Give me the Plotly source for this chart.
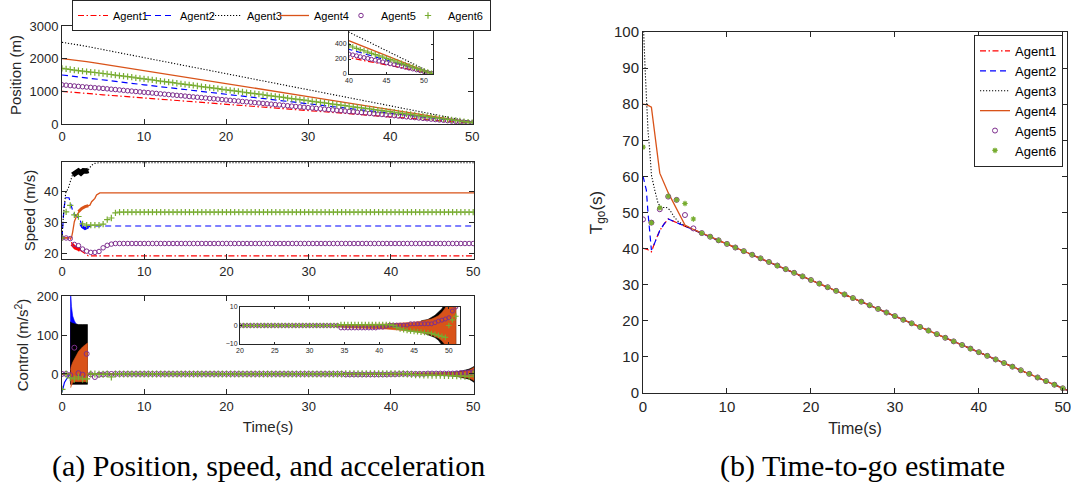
import plotly.graph_objects as go

W, H = 1071, 493

# ---------------- data ----------------
agents = ["Agent1", "Agent2", "Agent3", "Agent4", "Agent5", "Agent6"]

# 0.5 s sampling grid used by the marker series (Agent5, Agent6)
t_half = [0, 0.5, 1, 1.5, 2, 2.5, 3, 3.5, 4, 4.5,
          5, 5.5, 6, 6.5, 7, 7.5, 8, 8.5, 9, 9.5,
          10, 10.5, 11, 11.5, 12, 12.5, 13, 13.5, 14, 14.5,
          15, 15.5, 16, 16.5, 17, 17.5, 18, 18.5, 19, 19.5,
          20, 20.5, 21, 21.5, 22, 22.5, 23, 23.5, 24, 24.5,
          25, 25.5, 26, 26.5, 27, 27.5, 28, 28.5, 29, 29.5,
          30, 30.5, 31, 31.5, 32, 32.5, 33, 33.5, 34, 34.5,
          35, 35.5, 36, 36.5, 37, 37.5, 38, 38.5, 39, 39.5,
          40, 40.5, 41, 41.5, 42, 42.5, 43, 43.5, 44, 44.5,
          45, 45.5, 46, 46.5, 47, 47.5, 48, 48.5, 49, 49.5,
          50, 50.5, 51]
# 1 s grid for time-to-go markers
t_one = [0, 1, 2, 3, 4, 5, 6, 7, 8, 9,
         10, 11, 12, 13, 14, 15, 16, 17, 18, 19,
         20, 21, 22, 23, 24, 25, 26, 27, 28, 29,
         30, 31, 32, 33, 34, 35, 36, 37, 38, 39,
         40, 41, 42, 43, 44, 45, 46, 47, 48, 49,
         50]

# ---- Position (m) ----
pos_t = [0, 0.5, 1, 2, 3, 4, 5, 10, 20, 30, 40, 50, 51]
pos1 = [1000, 988, 975, 953, 932, 913, 893, 797, 604, 411, 218, 25, 6]
pos2 = [1500, 1484, 1466, 1433, 1403, 1374, 1345, 1200, 910, 620, 330, 40, 11]
pos3 = [2500, 2485, 2465, 2421, 2376, 2328, 2279, 2033, 1541, 1049, 557, 65, 16]
pos4 = [2000, 1988, 1975, 1944, 1909, 1871, 1832, 1634, 1237, 840, 443, 46, 6]
pos5 = [1200, 1188, 1175, 1164, 1152, 1141, 1131, 1121, 1110, 1100,
        1089, 1077, 1065, 1054, 1042, 1030, 1018, 1007, 995, 983,
        971, 960, 948, 936, 924, 913, 901, 889, 877, 866,
        854, 842, 830, 819, 807, 795, 783, 772, 760, 748,
        736, 725, 713, 701, 689, 678, 666, 654, 642, 631,
        619, 607, 595, 584, 572, 560, 548, 537, 525, 513,
        501, 490, 478, 466, 454, 443, 431, 419, 407, 396,
        384, 372, 360, 349, 337, 325, 313, 302, 290, 278,
        266, 255, 243, 231, 219, 208, 196, 184, 172, 161,
        149, 137, 125, 114, 102, 90, 78, 67, 55, 43,
        31, 20, 8]
pos6 = [1700, 1685, 1668, 1651, 1635, 1620, 1605, 1590, 1576, 1561,
        1546, 1531, 1515, 1499, 1482, 1465, 1449, 1432, 1415, 1398,
        1382, 1365, 1348, 1331, 1315, 1298, 1281, 1264, 1248, 1231,
        1214, 1197, 1181, 1164, 1147, 1130, 1114, 1097, 1080, 1063,
        1047, 1030, 1013, 996, 980, 963, 946, 929, 913, 896,
        879, 862, 846, 829, 812, 795, 779, 762, 745, 728,
        712, 695, 678, 661, 645, 628, 611, 594, 578, 561,
        544, 527, 511, 494, 477, 460, 444, 427, 410, 393,
        377, 360, 343, 326, 310, 293, 276, 259, 243, 226,
        209, 192, 176, 159, 142, 125, 109, 92, 75, 58,
        42, 25, 8]

# ---- Speed (m/s) ----
spd1_t = [0, 1.0, 1.2, 1.4, 1.6, 2.0, 2.2, 2.6, 2.9, 3.2, 51]
spd1 = [25, 25, 23.2, 22.4, 21.8, 21.4, 21.0, 20.5, 19.8, 19.2, 19.2]
spd1_chat_t = [1.2, 1.4, 1.6, 2.0, 2.2]
spd1_chat = [23.0, 22.4, 21.8, 21.4, 21.0]
spd2_t = [0, 0.1, 0.25, 0.45, 0.85, 1.1, 1.38, 1.8, 2.2, 2.4, 2.8, 3.2, 3.6, 51]
spd2 = [25, 29.7, 35, 38.1, 38.1, 35.8, 33.1, 32.0, 30.9, 29.2, 28.1, 28.6, 28.9, 28.9]
spd2_chat_t = [2.3, 2.5, 2.8, 3.0, 3.2]
spd2_chat = [29.5, 28.6, 28.1, 28.3, 28.6]
spd3_t = [0, 0.16, 0.45, 0.77, 1.0, 1.26, 1.6, 2.0, 2.3, 2.6, 3.2, 3.6, 4.0, 4.5, 51]
spd3 = [25, 32, 39.7, 41.2, 43.3, 45.4, 46.5, 47.0, 46.3, 47.2, 47.2, 48.7, 49.3, 49.5, 49.5]
spd3_chat_t = [1.3, 1.6, 2.0, 2.3, 2.6, 3.0, 3.2]
spd3_chat = [45.5, 46.3, 46.8, 46.2, 46.9, 46.8, 47.0]
spd4_t = [0, 1.15, 1.3, 1.5, 1.8, 2.2, 2.8, 3.4, 3.6, 4.0, 4.2, 4.6, 51]
spd4 = [25, 25, 27, 30.3, 32.4, 34.1, 35.2, 35.7, 36.8, 37.9, 39.0, 39.7, 39.7]
spd4_chat_t = [2.0, 2.4, 2.8, 3.2]
spd4_chat = [33.6, 34.6, 35.2, 35.5]
spd5 = [25, 25, 24.8, 22.9, 22.5, 21.4, 20.7, 20.3, 20.3, 20.6,
        21.8, 22.6, 23.0, 23.2, 23.2, 23.2, 23.2, 23.2, 23.2, 23.2,
        23.2, 23.2, 23.2, 23.2, 23.2, 23.2, 23.2, 23.2, 23.2, 23.2,
        23.2, 23.2, 23.2, 23.2, 23.2, 23.2, 23.2, 23.2, 23.2, 23.2,
        23.2, 23.2, 23.2, 23.2, 23.2, 23.2, 23.2, 23.2, 23.2, 23.2,
        23.2, 23.2, 23.2, 23.2, 23.2, 23.2, 23.2, 23.2, 23.2, 23.2,
        23.2, 23.2, 23.2, 23.2, 23.2, 23.2, 23.2, 23.2, 23.2, 23.2,
        23.2, 23.2, 23.2, 23.2, 23.2, 23.2, 23.2, 23.2, 23.2, 23.2,
        23.2, 23.2, 23.2, 23.2, 23.2, 23.2, 23.2, 23.2, 23.2, 23.2,
        23.2, 23.2, 23.2, 23.2, 23.2, 23.2, 23.2, 23.2, 23.2, 23.2,
        23.2, 23.2, 23.2]
spd6 = [25, 33.5, 35.6, 32.5, 32.0, 29.6, 29.2, 29.2, 29.2, 29.2,
        29.5, 31.0, 31.5, 33.2, 33.4, 33.4, 33.4, 33.4, 33.4, 33.4,
        33.4, 33.4, 33.4, 33.4, 33.4, 33.4, 33.4, 33.4, 33.4, 33.4,
        33.4, 33.4, 33.4, 33.4, 33.4, 33.4, 33.4, 33.4, 33.4, 33.4,
        33.4, 33.4, 33.4, 33.4, 33.4, 33.4, 33.4, 33.4, 33.4, 33.4,
        33.4, 33.4, 33.4, 33.4, 33.4, 33.4, 33.4, 33.4, 33.4, 33.4,
        33.4, 33.4, 33.4, 33.4, 33.4, 33.4, 33.4, 33.4, 33.4, 33.4,
        33.4, 33.4, 33.4, 33.4, 33.4, 33.4, 33.4, 33.4, 33.4, 33.4,
        33.4, 33.4, 33.4, 33.4, 33.4, 33.4, 33.4, 33.4, 33.4, 33.4,
        33.4, 33.4, 33.4, 33.4, 33.4, 33.4, 33.4, 33.4, 33.4, 33.4,
        33.4, 33.4, 33.4]

# ---- Control (m/s^2) ----
ctrl_flat_t = [0, 51]
ctrl_flat = [0, 0]
ctrl2_t = [0, 0.15, 0.3, 0.5, 0.7, 0.9, 1.0, 51]
ctrl2 = [-48, -33, -22, -15, -8, -2, 0, 0]
# chattering envelopes (upper / lower edge of the filled bands)
band1_t = [1.0, 1.3, 2.0, 2.8]
band1_hi = [128, 130, 125, 120]
band1_lo = [-25, -25, -25, -25]
band2_t = [1.0, 1.05, 1.15, 1.3, 1.5, 1.7, 2.0, 2.4]
band2_hi = [205, 215, 175, 150, 138, 130, 126, 122]
band2_lo = [-25, -25, -25, -25, -25, -25, -25, -25]
band3a_t = [1.0, 1.2, 1.5, 2.0, 2.5, 3.0, 3.1]
band3a_hi = [135, 132, 130, 128, 128, 128, 128]
band3a_lo = [-27, -27, -27, -27, -27, -27, -27]
band3b_t = [46, 47, 48, 48.5, 49, 49.5, 50, 50.5, 51]
band3b_hi = [2.5, 3.3, 5.5, 7, 9, 12.5, 18, 26, 35]
band3b_lo = [-3.5, -4.8, -6.5, -8, -10.5, -13.5, -20, -30, -40]
band4a_t = [1.05, 1.1, 1.3, 1.6, 2.0, 2.5, 3.0, 3.1]
band4a_hi = [10, 18, 30, 44, 58, 70, 78, 80]
band4a_lo = [-36, -30, -22, -20, -20, -20, -20, -20]
band4b_t = [33, 35, 38, 41, 43, 45, 46, 47, 47.5, 48, 48.5, 49, 49.5, 50, 50.5, 51]
band4b_hi = [0, 0.4, 0.6, 0.8, 1.2, 1.8, 2.3, 3.0, 3.5, 4.3, 5.3, 7.0, 9.5, 15, 22, 30]
band4b_lo = [0, -1.2, -1.5, -1.9, -2.5, -3.3, -3.8, -4.5, -5.0, -5.8, -6.8, -8.3, -10.5, -16, -25, -34]
ctrl5 = [0, 0, -3, 68, 2, -2, 52, -1, -8, -2,
         -1, 0, 0, 0, 0, 0, 0, 0, 0, 0,
         0, 0, 0, 0, 0, 0, 0, 0, 0, 0,
         0, 0, 0, 0, 0, 0, 0, 0, 0, 0,
         0, 0, 0, 0, 0, 0, 0, 0, 0, 0,
         0, 0, 0, 0, 0, 0, 0, 0, 0, 0,
         0, 0, 0, 0, 0, 0, 0, 0, 0, -1.3,
         -1.3, -1.3, -1.3, -1.3, -1.3, -1.3, -1.3, -1.3, -1.3, -1.3,
         -0.9, -0.9, -0.3, 0.2, 0.2, 0.2, 0.2, 0.2, 0.2, 0.9,
         0.9, 0.9, 0.9, 0.9, 0.9, 0.9, 1.5, 2.4, 2.9, 3.5,
         4.2, 7.8, 10]
ctrl6 = [-40, 0, -10, -13, -8, -13, -13, 0, 0, -1,
         -1, 0, -8, 0, 0, 0, 0, 0, 0, 0,
         0, 0, 0, 0, 0, 0, 0, 0, 0, 0,
         0, 0, 0, 0, 0, 0, 0, 0, 0, 0,
         0, 0, 0, 0, 0, 0, 0, 0, 0, 0,
         0, 0, 0, 0, 0, 0, 0, 0, 0, 0,
         0, 0, 0, 0, 0, 0, 0, 0, 0, 0.5,
         0.5, 0.5, 0.5, 0.5, 0.5, 0.5, 0.5, 0.5, 0.5, 0.5,
         0.5, 0.5, 0.5, 0.5, 0.1, -1, -1.8, -2.3, -2.7, -3.0,
         -3.2, -3.4, -3.6, -3.8, -4.0, -4.3, -4.8, -5.3, -5.9, -6.4,
         0, 3, 5]

# ---- Time-to-go estimate (s) ----
tgo1_t = [0, 0.5, 1.0, 1.2, 1.5, 2.0, 2.5, 3.0, 3.5, 4.0, 4.5, 5.0, 6, 10, 20, 30, 40, 50, 50.5]
tgo1 = [40.1, 39.8, 39.1, 40.5, 42.3, 45.0, 46.8, 48.2, 47.7, 47.2, 46.8, 46.3, 45.3, 41.3, 31.3, 21.3, 11.3, 1.3, 0.8]
tgo2_t = [0, 0.2, 0.4, 0.6, 0.8, 1.0, 1.2, 1.5, 2.0, 2.5, 3.0, 3.5, 4.0, 4.5, 5.0, 6, 10, 20, 30, 40, 50, 50.5]
tgo2 = [60.1, 58.5, 56.2, 49.8, 43.3, 39.6, 40.5, 42.3, 45.0, 46.8, 48.2, 47.7, 47.2, 46.8, 46.3, 45.3, 41.3, 31.3, 21.3, 11.3, 1.3, 0.8]
tgo3_t = [0, 0.08, 0.24, 0.4, 0.6, 0.8, 1.0, 1.4, 1.8, 2.2, 2.8, 3.2, 3.7, 4.2, 5.0, 6, 10, 20, 30, 40, 50, 50.5]
tgo3 = [100, 100, 90.3, 82, 72.5, 67.3, 60.4, 56.2, 52.5, 51.4, 51.4, 50.7, 48.8, 47.5, 46.3, 45.3, 41.3, 31.3, 21.3, 11.3, 1.3, 0.8]
tgo4_t = [0, 0.5, 1.0, 2.0, 3.0, 4.0, 5.0, 6, 10, 20, 30, 40, 50, 50.5]
tgo4 = [80, 79.8, 79.2, 60.9, 55.5, 51.0, 46.5, 45.3, 41.3, 31.3, 21.3, 11.3, 1.3, 0.8]
tgo5 = [48.1, 47.2, 50.9, 54.4, 53.5, 49.3, 45.6, 44.3, 43.3, 42.3,
        41.3, 40.3, 39.3, 38.3, 37.3, 36.3, 35.3, 34.3, 33.3, 32.3,
        31.3, 30.3, 29.3, 28.3, 27.3, 26.3, 25.3, 24.3, 23.3, 22.3,
        21.3, 20.3, 19.3, 18.3, 17.3, 16.3, 15.3, 14.3, 13.3, 12.3,
        11.3, 10.3, 9.3, 8.3, 7.3, 6.3, 5.3, 4.3, 3.3, 2.3,
        1.3]
tgo6 = [68.1, 47.2, 51.3, 54.5, 53.5, 52.5, 48.2, 44.3, 43.3, 42.3,
        41.3, 40.3, 39.3, 38.3, 37.3, 36.3, 35.3, 34.3, 33.3, 32.3,
        31.3, 30.3, 29.3, 28.3, 27.3, 26.3, 25.3, 24.3, 23.3, 22.3,
        21.3, 20.3, 19.3, 18.3, 17.3, 16.3, 15.3, 14.3, 13.3, 12.3,
        11.3, 10.3, 9.3, 8.3, 7.3, 6.3, 5.3, 4.3, 3.3, 2.3,
        1.3]

captions = ["(a) Position, speed, and acceleration", "(b) Time-to-go estimate"]

# ---------------- styles ----------------
C1, C2, C3, C4, C5, C6 = "#FF0000", "#0000FF", "#000000", "#D95319", "#7E2F8E", "#77AC30"
AX = "#262626"
SANS = "Liberation Sans, Arial, sans-serif"
L1 = dict(color=C1, width=1.2, dash="6px,2.5px,1.5px,2.5px")
L2 = dict(color=C2, width=1.2, dash="6px,4px")
L3 = dict(color=C3, width=1.1, dash="1.2px,1.8px")
L4 = dict(color=C4, width=1.3)


def m5(size):
    return dict(symbol="circle-open", color=C5, size=size, line=dict(width=1, color=C5))


def m6(size, symbol="cross-thin-open", lw=1.2):
    return dict(symbol=symbol, color=C6, size=size, line=dict(width=lw, color=C6))


fig = go.Figure()


def add(x, y, xa, ya, **kw):
    kw.setdefault("showlegend", False)
    fig.add_trace(go.Scatter(x=x, y=y, xaxis=xa, yaxis=ya, hoverinfo="skip", **kw))


def band(t, hi, lo, xa, ya, color):
    xs = list(t) + list(t)[::-1]
    ys = list(hi) + list(lo)[::-1]
    add(xs, ys, xa, ya, mode="lines", fill="toself", fillcolor=color,
        line=dict(width=0.6, color=color))


# ---- Position: main + inset ----
for xa, ya, ms, main in (("x", "y", 4.5, True), ("x5", "y5", 4, False)):
    add(pos_t, pos1, xa, ya, mode="lines", line=L1, name=agents[0], showlegend=main, legend="legend")
    add(pos_t, pos2, xa, ya, mode="lines", line=L2, name=agents[1], showlegend=main, legend="legend")
    add(pos_t, pos3, xa, ya, mode="lines", line=L3, name=agents[2], showlegend=main, legend="legend")
    add(pos_t, pos4, xa, ya, mode="lines", line=L4, name=agents[3], showlegend=main, legend="legend")
    add(t_half, pos5, xa, ya, mode="markers", marker=m5(ms), name=agents[4], showlegend=main, legend="legend")
    add(t_half, pos6, xa, ya, mode="markers", marker=m6(ms), name=agents[5], showlegend=main,
        legend="legend", legendwidth=37)

# ---- Speed ----
add(spd1_t, spd1, "x2", "y2", mode="lines", line=L1)
add(spd1_chat_t, spd1_chat, "x2", "y2", mode="lines", line=dict(color=C1, width=3.5))
add(spd2_t, spd2, "x2", "y2", mode="lines", line=L2)
add(spd2_chat_t, spd2_chat, "x2", "y2", mode="lines", line=dict(color=C2, width=3))
add(spd3_t, spd3, "x2", "y2", mode="lines", line=L3)
add(spd3_chat_t, spd3_chat, "x2", "y2", mode="lines", line=dict(color=C3, width=5.5))
add(spd4_t, spd4, "x2", "y2", mode="lines", line=L4)
add(spd4_chat_t, spd4_chat, "x2", "y2", mode="lines", line=dict(color=C4, width=3))
add(t_half, spd5, "x2", "y2", mode="markers", marker=m5(4.5))
add(t_half, spd6, "x2", "y2", mode="markers", marker=m6(4.5))

# ---- Control: main + inset ----
for xa, ya, ms in (("x3", "y3", 5), ("x6", "y6", 4)):
    band(band1_t, band1_hi, band1_lo, xa, ya, C1)
    add(ctrl_flat_t, ctrl_flat, xa, ya, mode="lines", line=L1)
    band(band2_t, band2_hi, band2_lo, xa, ya, C2)
    add(ctrl2_t, ctrl2, xa, ya, mode="lines", line=dict(color=C2, width=1.2))
    band(band3a_t, band3a_hi, band3a_lo, xa, ya, C3)
    band(band3b_t, band3b_hi, band3b_lo, xa, ya, C3)
    add(ctrl_flat_t, ctrl_flat, xa, ya, mode="lines", line=L3)
    band(band4a_t, band4a_hi, band4a_lo, xa, ya, C4)
    band(band4b_t, band4b_hi, band4b_lo, xa, ya, C4)
    add(ctrl_flat_t, ctrl_flat, xa, ya, mode="lines", line=L4)
    add(t_half, ctrl5, xa, ya, mode="markers", marker=m5(ms))
    add(t_half, ctrl6, xa, ya, mode="markers", marker=m6(ms))

# ---- Time-to-go ----
add(tgo1_t, tgo1, "x4", "y4", mode="lines", line=L1, name=agents[0], showlegend=True, legend="legend2")
add(tgo2_t, tgo2, "x4", "y4", mode="lines", line=L2, name=agents[1], showlegend=True, legend="legend2")
add(tgo3_t, tgo3, "x4", "y4", mode="lines", line=L3, name=agents[2], showlegend=True, legend="legend2")
add(tgo4_t, tgo4, "x4", "y4", mode="lines", line=L4, name=agents[3], showlegend=True, legend="legend2")
add(t_one, tgo5, "x4", "y4", mode="markers", marker=m5(5), name=agents[4], showlegend=True, legend="legend2")
add(t_one, tgo6, "x4", "y4", mode="markers", marker=m6(4.5, "asterisk-open", 1.2), name=agents[5],
    showlegend=True, legend="legend2")


# ---------------- layout ----------------
def xd(a, b):
    return [a / W, b / W]


def yd(top, bottom):
    return [1 - bottom / H, 1 - top / H]


def axis(domain, rng, anchor, tickvals, fs=13, ticklen=5, title=None, tfs=15, standoff=4):
    d = dict(domain=domain, range=rng, anchor=anchor, tickvals=tickvals, automargin=False,
             ticklabeloverflow="allow",
             showline=True, linecolor=AX, linewidth=1, mirror="ticks",
             ticks="inside", ticklen=ticklen, tickcolor=AX, tickwidth=1,
             showgrid=False, zeroline=False,
             tickfont=dict(family=SANS, size=fs, color=AX))
    if title:
        d["title"] = dict(text=title, font=dict(family=SANS, size=tfs, color=AX), standoff=standoff)
    return d


xt_main = [0, 10, 20, 30, 40, 50]
fig.update_layout(
    width=W, height=H, margin=dict(l=0, r=0, t=0, b=0, pad=0, autoexpand=False),
    paper_bgcolor="white", plot_bgcolor="white",
    xaxis=axis(xd(62, 473), [0, 50.1], "y", xt_main),
    yaxis=axis(yd(26, 124), [0, 3000], "x", [0, 1000, 2000, 3000], title="Position (m)"),
    xaxis2=axis(xd(62, 474), [0, 50.1], "y2", xt_main),
    yaxis2=axis(yd(162, 259), [18.15, 49.75], "x2", [20, 30, 40], title="Speed (m/s)"),
    xaxis3=axis(xd(62, 474), [0, 50.1], "y3", xt_main, title="Time(s)", standoff=8),
    yaxis3=axis(yd(296, 394), [-52, 202], "x3", [0, 100, 200], title="Control (m/s<sup>2</sup>)"),
    xaxis4=axis(xd(643, 1067), [0, 50.5], "y4", xt_main, fs=15, title="Time(s)", tfs=16, standoff=8),
    yaxis4=axis(yd(32, 393), [0, 100], "x4", [0, 10, 20, 30, 40, 50, 60, 70, 80, 90, 100], fs=15,
                title="T<sub>go</sub>(s)", tfs=17, standoff=7),
    xaxis5=axis(xd(349, 433), [40, 51.2], "y5", [40, 45, 50], fs=7, ticklen=2),
    yaxis5=axis(yd(29, 74), [0, 600], "x5", [0, 200, 400, 600], fs=7, ticklen=2),
    xaxis6=axis(xd(240, 460), [20, 51.6], "y6", [20, 25, 30, 35, 40, 45, 50], fs=7, ticklen=2),
    yaxis6=axis(yd(307, 344), [-10, 10], "x6", [-10, 0, 10], fs=7, ticklen=2),
    legend=dict(orientation="h", x=72 / W, y=1.0, xanchor="left", yanchor="top",
                bgcolor="white", bordercolor=AX, borderwidth=1, itemwidth=30,
                entrywidth=22, entrywidthmode="pixels",
                font=dict(family=SANS, size=11, color="#000000"), tracegroupgap=0),
    legend2=dict(x=1063 / W, y=1 - 35 / H, xanchor="right", yanchor="top",
                 bgcolor="white", bordercolor=AX, borderwidth=1, itemwidth=30,
                 font=dict(family=SANS, size=13, color="#000000"), tracegroupgap=0),
    annotations=[
        dict(text=captions[0], x=268 / W, y=1 - 466 / H, xref="paper", yref="paper",
             showarrow=False, xanchor="center", yanchor="middle",
             font=dict(family="Liberation Serif, serif", size=30, color="#000000")),
        dict(text=captions[1], x=862 / W, y=1 - 466 / H, xref="paper", yref="paper",
             showarrow=False, xanchor="center", yanchor="middle",
             font=dict(family="Liberation Serif, serif", size=30, color="#000000")),
    ],
)

fig.write_html("out.html")
